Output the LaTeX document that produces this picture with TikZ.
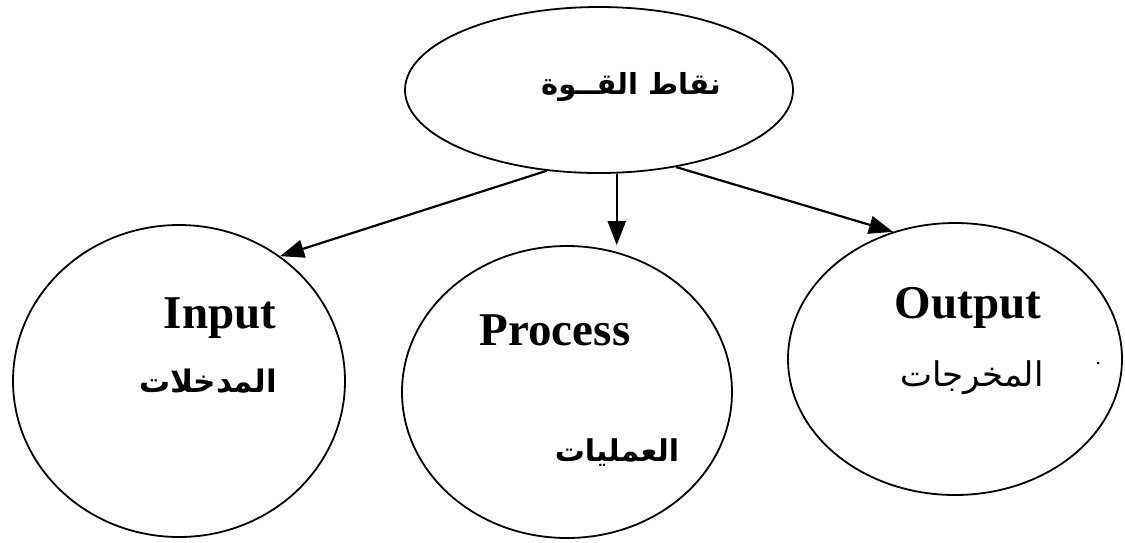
\documentclass[tikz,border=0pt]{standalone}
\usepackage{fontspec}
\setmainfont{Liberation Serif}
\newfontfamily\arabicfont[Script=Arabic]{DejaVu Sans}
\TeXXeTstate=1
\usetikzlibrary{shapes.geometric,arrows.meta}
\begin{document}
\begin{tikzpicture}[x=1pt,y=-1pt,
  bubble/.style={draw,ellipse,line width=1.8pt,inner sep=0pt},
  flow/.style={line width=2.2pt,-{Triangle[length=24pt,width=18pt]}},
  entitle/.style={font=\fontsize{47}{50}\selectfont\bfseries,anchor=base,inner sep=0pt},
  artitle/.style={inner sep=0pt}]
  \useasboundingbox (0,0) rectangle (1125,542);
  % shapes
  \node[bubble,minimum width=388pt,minimum height=166pt] (top) at (599,90) {};
  \node[bubble,minimum width=332pt,minimum height=312pt] (input) at (179,381) {};
  \node[bubble,minimum width=330pt,minimum height=292pt] (process) at (567,392) {};
  \node[bubble,minimum width=334pt,minimum height=272pt] (output) at (955,359) {};
  % labels
  \node[artitle,font=\arabicfont\fontsize{29}{34}\selectfont\bfseries] (toplbl) at (631,87) {\beginR نقاط القــوة\endR};
  \node[entitle] (inen) at (220,328) {Input};
  \node[artitle,font=\arabicfont\fontsize{31}{36}\selectfont\bfseries] (inar) at (208,381) {\beginR المدخلات\endR};
  \node[entitle] (pren) at (555,345) {Process};
  \node[artitle,font=\arabicfont\fontsize{30}{35}\selectfont\bfseries] (prar) at (617,453) {\beginR العمليات\endR};
  \node[entitle] (outen) at (968,318) {Output};
  \node[artitle,font=\arabicfont\fontsize{34}{40}\selectfont] (outar) at (972,378) {\beginR المخرجات\endR};
  \node[circle,fill,inner sep=0pt,minimum size=3pt] (dot) at (1098,363) {};
  % connectors
  \draw[flow] (top.237) -- (input.51);
  \draw[flow] (top.282) -- (top.282 |- process.north);
  \draw[flow] (top.315) -- (output.116);
\end{tikzpicture}
\end{document}
